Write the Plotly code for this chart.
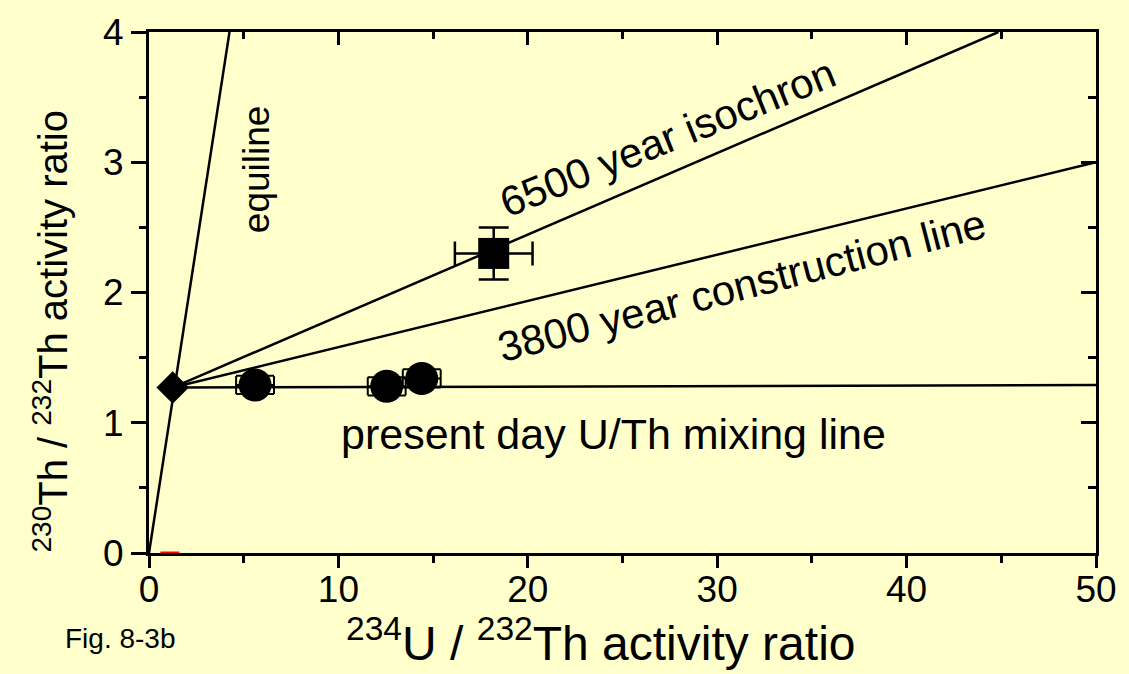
import plotly.graph_objects as go

# ---- data ----
equi_x = [0, 4.25]
equi_y = [0, 4]
iso_x = [1.25, 44.85]
iso_y = [1.27, 4.0]
cons_x = [1.25, 50]
cons_y = [1.27, 3.0]
mix_x = [1.25, 50]
mix_y = [1.27, 1.29]

diamond_x = [1.25]
diamond_y = [1.27]

circ_x = [5.6, 12.55, 14.4]
circ_y = [1.29, 1.28, 1.34]
circ_xerr = [1.0, 1.0, 1.0]
circ_yerr = [0.07, 0.07, 0.07]

sq_x = [18.2]
sq_y = [2.3]
sq_xerr = [2.05]
sq_yerr = [0.2]

red_x = [0.6, 1.6]
red_y = [0, 0]

x_ticks = [0, 10, 20, 30, 40, 50]
y_ticks = [0, 1, 2, 3, 4]

FONT = "'Liberation Sans', Arial, sans-serif"
BG = "#FFFFCC"

W, H = 1129, 674
ML, MR, MT, MB = 149, 28, 25, 121

fig = go.Figure()

for xs, ys in [(equi_x, equi_y), (iso_x, iso_y), (cons_x, cons_y), (mix_x, mix_y)]:
    fig.add_trace(go.Scatter(x=xs, y=ys, mode="lines",
                             line=dict(color="black", width=2.5), hoverinfo="skip"))

fig.add_trace(go.Scatter(x=red_x, y=red_y, mode="lines",
                         line=dict(color="red", width=3), hoverinfo="skip"))

fig.add_trace(go.Scatter(
    x=circ_x, y=circ_y, mode="markers",
    marker=dict(symbol="circle", size=33, color="black"),
    error_x=dict(type="data", array=circ_xerr, color="black", thickness=2, width=9),
    error_y=dict(type="data", array=circ_yerr, color="black", thickness=2, width=19),
    cliponaxis=False))

fig.add_trace(go.Scatter(
    x=sq_x, y=sq_y, mode="markers",
    marker=dict(symbol="square", size=31, color="black"),
    error_x=dict(type="data", array=sq_xerr, color="black", thickness=2.5, width=12),
    error_y=dict(type="data", array=sq_yerr, color="black", thickness=2.5, width=15),
    cliponaxis=False))

fig.add_trace(go.Scatter(
    x=diamond_x, y=diamond_y, mode="markers",
    marker=dict(symbol="diamond", size=25, color="black"),
    cliponaxis=False))

# dummy trace for mirrored axes (top/right with inside ticks)
fig.add_trace(go.Scatter(x=[None], y=[None], xaxis="x2", yaxis="y2",
                         mode="markers", hoverinfo="skip"))

axis_common = dict(showgrid=False, zeroline=False, showline=True,
                   linecolor="black", linewidth=3, tickcolor="black",
                   tickwidth=3)

fig.update_layout(
    width=W, height=H,
    margin=dict(l=ML, r=MR, t=MT, b=MB),
    paper_bgcolor=BG, plot_bgcolor=BG,
    showlegend=False,
    font=dict(family=FONT, color="black"),
    xaxis=dict(range=[0, 50], tickvals=x_ticks, ticks="outside", ticklen=12,
               ticklabelstandoff=-10,
               tickfont=dict(size=37, family=FONT),
               minor=dict(dtick=5, ticks="outside", ticklen=7, tickwidth=3,
                          tickcolor="black"),
               layer="below traces", **axis_common),
    yaxis=dict(range=[0, 4], tickvals=y_ticks, ticks="outside", ticklen=15,
               tickfont=dict(size=37, family=FONT),
               minor=dict(dtick=0.5, ticks="outside", ticklen=7, tickwidth=3,
                          tickcolor="black"),
               **axis_common),
    xaxis2=dict(range=[0, 50], overlaying="x", side="top", anchor="y2",
                tickvals=x_ticks, ticks="inside", ticklen=13, showticklabels=False,
                minor=dict(dtick=5, ticks="inside", ticklen=7, tickwidth=3,
                           tickcolor="black"),
                **axis_common),
    yaxis2=dict(range=[0, 4], overlaying="y", side="right", anchor="x2",
                tickvals=y_ticks, ticks="inside", ticklen=15, showticklabels=False,
                minor=dict(dtick=0.5, ticks="inside", ticklen=8, tickwidth=3,
                           tickcolor="black"),
                **axis_common),
)

annos = [
    dict(text="equiline", x=5.67, y=2.95, textangle=-90, size=37),
    dict(text="6500 year isochron", x=27.4, y=3.19, textangle=-22, size=42),
    dict(text="3800 year construction line", x=31.3, y=2.05, textangle=-14.5, size=42),
    dict(text="present day U/Th mixing line", x=24.5, y=0.917, textangle=0, size=43),
]
for a in annos:
    fig.add_annotation(x=a["x"], y=a["y"], xref="x", yref="y", text=a["text"],
                       textangle=a["textangle"], showarrow=False,
                       xanchor="center", yanchor="middle",
                       font=dict(size=a["size"], family=FONT, color="black"))

# pixel -> paper coordinate helpers
pw, ph = W - ML - MR, H - MT - MB


def px(x):
    return (x - ML) / pw


def py(y_from_top):
    return ((H - y_from_top) - MB) / ph


fig.add_annotation(x=px(603), y=py(641), xref="paper", yref="paper",
                   xanchor="center", yanchor="middle",
                   text="<sup>234</sup>U / <sup>232</sup>Th activity ratio",
                   showarrow=False, font=dict(size=48, family=FONT, color="black"))
fig.add_annotation(text="Fig. 8-3b", showarrow=False,
                   xanchor="center", yanchor="middle",
                   font=dict(size=28, family=FONT, color="black"),
                   x=px(120), y=py(640), xref="paper", yref="paper")
fig.add_annotation(text="<sup>230</sup>Th / <sup>232</sup>Th activity ratio",
                   textangle=-90, showarrow=False,
                   xanchor="center", yanchor="middle",
                   font=dict(size=40, family=FONT, color="black"),
                   x=px(50), y=py(329), xref="paper", yref="paper")

fig.write_html("out.html")
